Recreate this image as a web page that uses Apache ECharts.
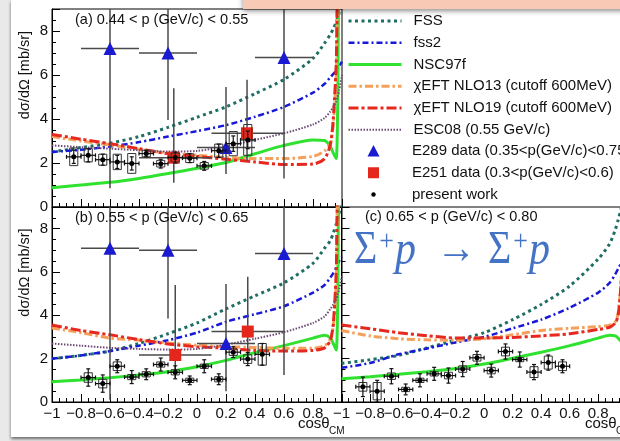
<!DOCTYPE html>
<html><head><meta charset="utf-8">
<script src="https://cdn.jsdelivr.net/npm/echarts@6/dist/echarts.min.js"></script>
<style>
html,body{margin:0;padding:0;background:#e9e9e9;}
#wrap{position:relative;width:620px;height:441px;overflow:hidden;background:#e9e9e9;}
#page{position:absolute;left:11px;top:0;width:640px;height:437px;background:#fff;box-shadow:0 2px 3px rgba(0,0,0,0.55);}
#chart{position:absolute;left:0;top:0;width:620px;height:441px;}
</style></head><body>
<div id="wrap"><div id="page"></div><div id="chart"></div></div>
<script>
const FONT = '"Liberation Sans", Arial, Helvetica, sans-serif';
const SERIF = '"Liberation Serif","DejaVu Serif",serif';

// ---- theory curves: common cos(theta) sampling ----
const X_CURVE = [-1,-0.8,-0.6,-0.4,-0.2,0,0.2,0.4,0.6,0.8,0.88,0.92,0.94,0.96,0.97,0.98,1];

// panel (a) 0.44 < p < 0.55
const FSS_A   = [2.5,2.7,2.9,3.2,3.62,4.08,4.55,5.15,5.8,6.75,7.45,7.85,8.1,8.4,8.6,8.8,9.3];
const FSS2_A  = [2.5,2.6,2.75,2.95,3.2,3.45,3.72,4.1,4.55,5.2,5.6,5.9,6.05,6.2,6.3,6.4,6.6];
const NSC_A   = [0.88,1.0,1.12,1.3,1.52,1.76,2.02,2.42,2.8,3.05,3.02,2.75,2.45,2.2,4.5,9.5,9.5];
const NLO13_A = [3.2,3.0,2.82,2.62,2.45,2.35,2.25,2.2,2.2,2.3,2.55,2.9,3.8,6.0,9.5,9.5,9.5];
const NLO19_A = [3.3,3.08,2.88,2.65,2.42,2.3,2.17,2.05,1.93,1.95,2.2,2.85,4.0,6.5,9.5,9.5,9.5];
const ESC_A   = [2.8,2.72,2.65,2.58,2.52,2.55,2.75,3.05,3.35,3.75,4.05,4.35,4.55,4.8,5.0,5.3,6.0];

// panel (b) 0.55 < p < 0.65
const FSS_B   = [2.0,2.15,2.35,2.7,3.15,3.65,4.3,4.9,5.5,6.4,7.1,7.45,7.8,8.2,8.4,8.7,9.3];
const FSS2_B  = [2.0,2.15,2.35,2.6,2.85,3.2,3.7,4.05,4.42,5.05,5.4,5.75,5.95,6.2,6.35,6.5,6.7];
const NSC_B   = [0.93,1.02,1.12,1.25,1.4,1.63,1.92,2.28,2.6,2.95,3.08,2.95,2.7,2.4,4.5,9.5,9.5];
const NLO13_B = [3.42,3.2,2.95,2.85,2.72,2.62,2.55,2.52,2.48,2.48,2.6,2.9,3.5,5.5,9.5,9.5,9.5];
const NLO19_B = [3.55,3.3,3.1,2.88,2.68,2.55,2.48,2.38,2.35,2.38,2.5,2.85,3.6,6.0,9.5,9.5,9.5];
const ESC_B   = [2.7,2.6,2.5,2.45,2.42,2.45,2.65,2.92,3.22,3.65,3.95,4.3,4.5,4.75,4.95,5.2,5.8];

// panel (c) 0.65 < p < 0.80
const FSS_C   = [1.78,1.95,2.15,2.5,2.85,3.2,3.8,4.5,5.35,6.6,7.3,7.95,8.4,8.9,9.2,9.5,9.5];
const FSS2_C  = [1.58,1.8,2.2,2.47,2.75,3.0,3.4,3.8,4.35,5.05,5.5,5.9,6.15,6.4,6.55,6.7,7.0];
const NSC_C   = [1.07,1.17,1.28,1.4,1.55,1.75,2.02,2.3,2.6,2.95,3.08,3.05,2.95,2.8,2.7,4.0,9.5];
const NLO13_C = [3.3,3.05,2.92,2.87,2.85,2.92,3.1,3.3,3.4,3.48,3.55,3.7,4.1,5.4,7.0,9.5,9.5];
const NLO19_C = [3.55,3.38,3.2,3.06,2.95,2.95,2.98,3.05,3.15,3.35,3.45,3.65,4.0,5.4,7.0,9.5,9.5];

// ---- present work ----
const PW_X_A    = [-0.85,-0.75,-0.65,-0.55,-0.45,-0.35,-0.25,-0.15,-0.05,0.05,0.15,0.25,0.35];
const PW_Y_A    = [2.28,2.35,2.15,2.05,1.98,2.43,1.97,2.25,2.22,1.87,2.56,2.88,3.05];
const PW_STAT_A = [0.3,0.3,0.25,0.3,0.3,0.15,0.2,0.25,0.2,0.2,0.3,0.35,0.4];
const PW_SYS_A  = [0.4,0.3,0.25,0.35,0.45,0.15,0.15,0.2,0.2,0.15,0.3,0.55,0.7];

const PW_X_B    = [-0.75,-0.65,-0.55,-0.45,-0.35,-0.25,-0.15,-0.05,0.05,0.15,0.25,0.35,0.45];
const PW_Y_B    = [1.13,0.85,1.65,1.15,1.28,1.73,1.37,1.0,1.65,1.05,2.3,1.98,2.2];
const PW_STAT_B = [0.4,0.4,0.3,0.3,0.25,0.3,0.3,0.2,0.3,0.25,0.25,0.3,0.5];
const PW_SYS_B  = [0.22,0.2,0.2,0.12,0.12,0.12,0.12,0.1,0.1,0.12,0.15,0.2,0.5];

const PW_X_C    = [-0.85,-0.75,-0.65,-0.55,-0.45,-0.35,-0.25,-0.15,-0.05,0.05,0.15,0.25,0.35,0.45,0.55];
const PW_Y_C    = [0.7,0.5,1.19,0.58,1.0,1.3,1.22,1.52,2.04,1.45,2.33,1.96,1.38,1.82,1.65];
const PW_STAT_C = [0.45,0.5,0.35,0.25,0.3,0.3,0.35,0.35,0.3,0.3,0.35,0.35,0.35,0.35,0.3];
const PW_SYS_C  = [0.2,0.4,0.15,0.1,0.1,0.1,0.15,0.15,0.15,0.15,0.2,0.1,0.25,0.3,0.2];

// ---- E289 (blue triangles) ----
const E289_X    = [-0.6,-0.2,0.2,0.6];
const E289_XLO  = [-0.8,-0.4,0.0,0.4];
const E289_XHI  = [-0.4,0.0,0.4,0.8];
const E289_Y_A   = [7.2,7.0,2.7,6.8];
const E289_YLO_A = [0.85,3.95,1.5,1.3];
const E289_YHI_A = [12,12,5.45,12];
const E289_Y_B   = [7.1,7.0,2.7,6.85];
const E289_YLO_B = [0.1,3.85,0.5,1.25];
const E289_YHI_B = [12,12,5.45,12];

// ---- E251 (red squares) ----
const E251_X_A   = [-0.16,0.345];
const E251_Y_A   = [2.24,3.35];
const E251_X_B   = [-0.15,0.35];
const E251_Y_B   = [2.17,3.25];
const E251_XLO   = [-0.4,0.1];
const E251_XHI   = [0.1,0.6];
const E251_YLO   = [1.1,2.1];
const E251_YHI   = [5.4,5.78];

// ---- labels ----
const NAMES = {
  FSS:'FSS', FSS2:'fss2', NSC:'NSC97f',
  NLO13:'χEFT NLO13 (cutoff 600MeV)', NLO19:'χEFT NLO19 (cutoff 600MeV)',
  ESC:'ESC08 (0.55 GeV/c)',
  E289:'E289 data (0.35<p(GeV/c)<0.75)', E251:'E251 data (0.3<p(GeV/c)<0.6)',
  PW:'present work'
};
const PANEL_TITLES = ['(a) 0.44 < p (GeV/c) < 0.55','(b) 0.55 < p (GeV/c) < 0.65','(c) 0.65 < p (GeV/c) < 0.80'];
const Y_TITLE = 'dσ/dΩ [mb/sr]';
const X_TITLE = 'cosθ';
const X_SUB = 'CM';

const STY = {
  FSS:  {color:'#1e6e64', width:3,   type:[3,3.5]},
  FSS2: {color:'#1818d8', width:2.5, type:[6,3,2,3]},
  NSC:  {color:'#2fe22f', width:3,   type:'solid'},
  NLO13:{color:'#f5a05a', width:3,   type:[8,3,2.5,3]},
  NLO19:{color:'#e6281e', width:3,   type:[10,3,3,3]},
  ESC:  {color:'#6e4a78', width:2,   type:[1.5,1.5]}
};
const C_E289 = '#1a1ad2', C_E251 = '#e4261c';

const PW_XERR = 0.05, PW_BOX = 0.028, YMAX = 9;

const panels = [
  {curves:{FSS:FSS_A,FSS2:FSS2_A,NSC:NSC_A,NLO13:NLO13_A,NLO19:NLO19_A,ESC:ESC_A},
   pw:[PW_X_A,PW_Y_A,PW_STAT_A,PW_SYS_A],
   e289:[E289_X,E289_Y_A,E289_XLO,E289_XHI,E289_YLO_A,E289_YHI_A],
   e251:[E251_X_A,E251_Y_A,E251_XLO,E251_XHI,E251_YLO,E251_YHI]},
  {curves:{FSS:FSS_B,FSS2:FSS2_B,NSC:NSC_B,NLO13:NLO13_B,NLO19:NLO19_B,ESC:ESC_B},
   pw:[PW_X_B,PW_Y_B,PW_STAT_B,PW_SYS_B],
   e289:[E289_X,E289_Y_B,E289_XLO,E289_XHI,E289_YLO_B,E289_YHI_B],
   e251:[E251_X_B,E251_Y_B,E251_XLO,E251_XHI,E251_YLO,E251_YHI]},
  {curves:{FSS:FSS_C,FSS2:FSS2_C,NSC:NSC_C,NLO13:NLO13_C,NLO19:NLO19_C},
   pw:[PW_X_C,PW_Y_C,PW_STAT_C,PW_SYS_C]}
];

const grids = [
  {left:52, top:9, width:290, height:198},
  {left:52, top:207, width:290, height:195},
  {left:341.5, top:207, width:285.2, height:195}
].map(g => Object.assign(g, {show:true, borderColor:'#000', borderWidth:1, backgroundColor:'transparent',
  containLabel:false, outerBoundsMode:'none'}));

const fmtX = v => (Math.abs(v - 1) < 1e-6) ? '' : String(Math.round(v*10)/10).replace('-', '\u2212');
const fmtY = v => v > 8.5 ? '' : String(v);

const xAxes = grids.map((g,i) => ({
  type:'value', gridIndex:i, min:-1, max:1, interval:0.2,
  axisLine:{show:true, onZero:false, lineStyle:{color:'#000', width:1}},
  axisTick:{show:true, inside:true, length:8, lineStyle:{color:'#000'}},
  minorTick:{show:true, splitNumber:4, length:4, lineStyle:{color:'#000'}},
  splitLine:{show:false}, minorSplitLine:{show:false},
  axisLabel:{show:i>0, margin:4, fontSize:15, color:'#111', fontFamily:FONT, formatter:fmtX, showMaxLabel:true, showMinLabel:true}
}));
const yAxes = grids.map((g,i) => ({
  type:'value', gridIndex:i, min:0, max:YMAX, interval:2,
  axisLine:{show:true, onZero:false, lineStyle:{color:'#000', width:1}},
  axisTick:{show:true, inside:true, length:8, lineStyle:{color:'#000'}},
  minorTick:{show:true, splitNumber:4, length:4, lineStyle:{color:'#000'}},
  splitLine:{show:false}, minorSplitLine:{show:false},
  axisLabel:{show:i<2, margin:4, fontSize:15, color:'#111', fontFamily:FONT, formatter:fmtY}
}));

const clampY = v => Math.max(0, Math.min(YMAX, v));

function errRender(params, api) {
  const x = api.value(0), y = api.value(1);
  const c = api.coord([x, y]);
  const xl = api.coord([api.value(2), y])[0], xh = api.coord([api.value(3), y])[0];
  const yl = api.coord([x, clampY(api.value(4))])[1], yh = api.coord([x, clampY(api.value(5))])[1];
  const st = {stroke:'#4a4a4a', lineWidth:1.5};
  return {type:'group', children:[
    {type:'line', shape:{x1:xl, y1:c[1], x2:xh, y2:c[1]}, style:st},
    {type:'line', shape:{x1:c[0], y1:yl, x2:c[0], y2:yh}, style:st}
  ]};
}

function pwRender(params, api) {
  const x = api.value(0), y = api.value(1), s = api.value(2), sy = api.value(3);
  const c = api.coord([x, y]);
  const xl = api.coord([x - PW_XERR, y])[0], xh = api.coord([x + PW_XERR, y])[0];
  const yl = api.coord([x, y - s])[1], yh = api.coord([x, y + s])[1];
  const b0 = api.coord([x - PW_BOX, y + sy]), b1 = api.coord([x + PW_BOX, y - sy]);
  const cap = 2;
  const ls = {stroke:'#111', lineWidth:1.2};
  return {type:'group', children:[
    {type:'rect', shape:{x:b0[0], y:b0[1], width:b1[0]-b0[0], height:b1[1]-b0[1]}, style:{fill:'none', stroke:'#333', lineWidth:1}},
    {type:'line', shape:{x1:xl, y1:c[1], x2:xh, y2:c[1]}, style:ls},
    {type:'line', shape:{x1:c[0], y1:yl, x2:c[0], y2:yh}, style:ls},
    {type:'line', shape:{x1:c[0]-cap, y1:yl, x2:c[0]+cap, y2:yl}, style:ls},
    {type:'line', shape:{x1:c[0]-cap, y1:yh, x2:c[0]+cap, y2:yh}, style:ls},
    {type:'line', shape:{x1:xl, y1:c[1]-cap, x2:xl, y2:c[1]+cap}, style:ls},
    {type:'line', shape:{x1:xh, y1:c[1]-cap, x2:xh, y2:c[1]+cap}, style:ls}
  ]};
}

const series = [];
panels.forEach((p, i) => {
  ['FSS','FSS2','NSC','NLO13','NLO19','ESC'].forEach(key => {
    const ys = p.curves[key];
    if (!ys) return;
    series.push({
      type:'line', name:NAMES[key], xAxisIndex:i, yAxisIndex:i,
      data: X_CURVE.map((x,k) => [x, ys[k]]),
      symbol:'none', smooth:0.25, clip:true, silent:true, z:2,
      lineStyle:{color:STY[key].color, width:STY[key].width, type:STY[key].type},
      itemStyle:{color:STY[key].color}
    });
  });
  if (p.e289) {
    const d = p.e289;
    series.push({type:'custom', xAxisIndex:i, yAxisIndex:i, renderItem:errRender, silent:true, z:3,
      encode:{x:0, y:1}, data:d[0].map((x,k)=>[x, d[1][k], d[2][k], d[3][k], d[4][k], d[5][k]])});
    series.push({type:'scatter', name:NAMES.E289, xAxisIndex:i, yAxisIndex:i, symbol:'triangle', symbolSize:13,
      silent:true, z:4, itemStyle:{color:C_E289, opacity:1}, data:d[0].map((x,k)=>[x, d[1][k]])});
  }
  if (p.e251) {
    const d = p.e251;
    series.push({type:'custom', xAxisIndex:i, yAxisIndex:i, renderItem:errRender, silent:true, z:3,
      encode:{x:0, y:1}, data:d[0].map((x,k)=>[x, d[1][k], d[2][k], d[3][k], d[4][k], d[5][k]])});
    series.push({type:'scatter', name:NAMES.E251, xAxisIndex:i, yAxisIndex:i, symbol:'rect', symbolSize:12,
      silent:true, z:4, itemStyle:{color:C_E251, opacity:1}, data:d[0].map((x,k)=>[x, d[1][k]])});
  }
  const w = p.pw;
  series.push({type:'custom', xAxisIndex:i, yAxisIndex:i, renderItem:pwRender, silent:true, z:5,
    encode:{x:0, y:1}, data:w[0].map((x,k)=>[x, w[1][k], w[2][k], w[3][k]])});
  series.push({type:'scatter', name:NAMES.PW, xAxisIndex:i, yAxisIndex:i, symbol:'circle', symbolSize:5,
    silent:true, z:6, itemStyle:{color:'#000', opacity:1}, data:w[0].map((x,k)=>[x, w[1][k]])});
});

// legend: line entries through the ECharts legend, marker entries drawn below it
const LEG_LEFT = 347, LEG_SW = 53, LEG_TEXT = 412, LEG_ROW0 = 20.5, LEG_PITCH = 21.75;
const lineLegend = name => ({name, itemStyle:{opacity:0}});
const legend = {
  orient:'vertical', left:LEG_LEFT, top:LEG_ROW0 - 7, padding:0, itemWidth:LEG_SW, itemHeight:12, itemGap:LEG_PITCH - 15,
  selectedMode:false,
  lineStyle:{width:'inherit'},
  textStyle:{fontSize:15, color:'#111', fontFamily:FONT, padding:[0,0,0,7]},
  data:[
    lineLegend(NAMES.FSS), lineLegend(NAMES.FSS2), lineLegend(NAMES.NSC),
    lineLegend(NAMES.NLO13), lineLegend(NAMES.NLO19), lineLegend(NAMES.ESC)
  ]
};

const txt = (x, y, text, extra) => Object.assign({type:'text', x, y, z:50, silent:true,
  style:Object.assign({text, fontSize:14.5, fontFamily:FONT, fill:'#111', align:'left', verticalAlign:'middle'}, extra||{})});

const symX = LEG_LEFT + LEG_SW / 2;
const rowY = k => LEG_ROW0 + k * LEG_PITCH;
const graphic = [
  // marker legend rows
  {type:'polygon', z:50, silent:true, shape:{points:[[symX-6, rowY(6)+5.5],[symX+6, rowY(6)+5.5],[symX, rowY(6)-6]]}, style:{fill:C_E289}},
  txt(LEG_TEXT, rowY(6), NAMES.E289, {fontSize:15}),
  {type:'rect', z:50, silent:true, shape:{x:symX-5.5, y:rowY(7)-5.5, width:11, height:11}, style:{fill:C_E251}},
  txt(LEG_TEXT, rowY(7), NAMES.E251, {fontSize:15}),
  {type:'circle', z:50, silent:true, shape:{cx:symX, cy:rowY(8), r:2.2}, style:{fill:'#000'}},
  txt(LEG_TEXT, rowY(8), NAMES.PW, {fontSize:15}),

  txt(75, 20, PANEL_TITLES[0]),
  txt(75, 217.5, PANEL_TITLES[1]),
  txt(365, 216.7, PANEL_TITLES[2]),
  Object.assign(txt(25, 75, Y_TITLE, {align:'center'}), {rotation:Math.PI/2}),
  Object.assign(txt(25, 272.5, Y_TITLE, {align:'center'}), {rotation:Math.PI/2}),
  txt(298, 424, X_TITLE, {fontSize:15}),
  txt(329, 431, X_SUB, {fontSize:10}),
  txt(585, 424, X_TITLE, {fontSize:15}),
  txt(616, 431, X_SUB, {fontSize:10}),
  {type:'text', x:354, y:251, z:60, silent:true, scaleY:1.15, style:{
    text:'{a|Σ}{s|+}{p|p}{r|→}{a|Σ}{s|+}{p|p}',
    verticalAlign:'middle', align:'left',
    rich:{
      a:{fontSize:40, fontFamily:SERIF, fill:'#4472c4'},
      s:{fontSize:26, fontFamily:SERIF, fill:'#4472c4', verticalAlign:'top', padding:[0,1,0,2]},
      p:{fontSize:42, fontStyle:'italic', fontFamily:SERIF, fill:'#4472c4'},
      r:{fontSize:40, fontFamily:SERIF, fill:'#4472c4', padding:[0,12,0,20]}
    }}},
  {type:'rect', z:100, silent:true, shape:{x:243, y:-12, width:400, height:21},
   style:{fill:'#f8cab6', shadowBlur:5, shadowColor:'rgba(0,0,0,0.45)', shadowOffsetY:2}}
];

const chart = echarts.init(document.getElementById('chart'), null, {renderer:'canvas'});
chart.setOption({
  animation:false,
  backgroundColor:'transparent',
  grid:grids, xAxis:xAxes, yAxis:yAxes,
  legend, series, graphic
});
</script></body></html>
